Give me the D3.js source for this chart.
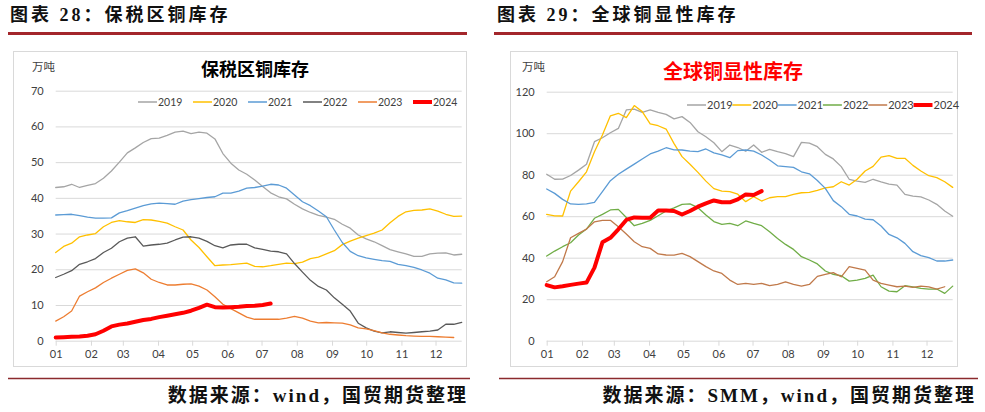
<!DOCTYPE html>
<html><head><meta charset="utf-8">
<script src="https://cdn.jsdelivr.net/npm/d3@7"></script>
<style>body{margin:0;background:#fff}svg{display:block}</style>
</head><body><svg id="c" width="985" height="412"></svg>
<script>
// ---------- data ----------
const monthLabels = ["01","02","03","04","05","06","07","08","09","10","11","12"];
const years = ["2019","2020","2021","2022","2023","2024"];
const leftYTicks = [0,10,20,30,40,50,60,70];
const rightYTicks = [0,20,40,60,80,100,120];

// 保税区铜库存 (万吨), weekly
const bonded2019 = [42.9,43.1,43.8,42.9,43.5,44.0,45.5,47.5,50.0,52.6,54.0,55.5,56.6,56.7,57.5,58.4,58.7,58.0,58.4,58.1,56.5,52.4,49.7,47.8,46.6,45.0,43.2,41.4,40.3,39.7,38.2,36.9,35.9,35.1,34.6,34.0,32.6,31.5,29.6,28.5,27.7,26.6,25.5,24.9,24.3,23.6,23.6,24.3,24.5,24.6,24.0,24.2];
const bonded2020 = [24.7,26.4,27.3,29.1,29.6,30.0,31.9,33.1,33.6,33.3,33.1,33.9,33.8,33.4,32.9,31.9,31.0,28.2,26.1,23.5,21.0,21.2,21.3,21.5,21.7,20.8,20.7,21.0,21.4,21.7,21.6,22.0,23.0,23.4,24.3,25.2,26.9,27.9,28.7,29.4,30.1,31.0,33.0,34.8,36.1,36.5,36.6,36.9,36.3,35.4,34.8,34.9];
const bonded2021 = [35.2,35.3,35.4,35.0,34.6,34.3,34.3,34.4,35.8,36.4,37.1,37.8,38.3,38.5,38.4,38.2,39.1,39.5,39.8,40.1,40.3,41.3,41.3,41.9,42.7,42.9,43.3,43.8,43.6,42.7,40.8,38.9,37.8,36.3,34.7,31.0,27.5,25.0,23.8,23.2,22.8,22.4,22.2,21.4,21.0,20.5,19.8,18.9,17.5,17.0,16.2,16.1];
const bonded2022 = [17.7,18.6,19.6,21.4,22.1,23.0,24.7,25.9,27.7,28.7,29.1,26.5,26.8,27.0,27.3,28.2,29.0,29.1,28.7,27.8,26.6,26.0,26.8,27.0,27.0,26.0,25.6,25.1,24.9,24.3,21.6,19.2,16.9,15.2,14.2,12.0,10.2,8.3,4.9,3.6,2.7,2.2,2.5,2.3,2.1,2.3,2.5,2.7,3.0,4.6,4.6,5.1];
const bonded2023 = [5.5,6.7,8.3,12.5,13.7,14.8,16.3,17.5,18.6,19.7,20.1,19.0,17.2,16.3,15.6,15.6,15.8,15.9,15.3,14.2,12.3,10.2,9.0,7.8,6.6,6.0,6.0,6.0,6.0,6.3,6.8,6.3,5.5,5.0,5.1,5.0,4.9,4.4,3.6,3.3,2.8,2.2,1.8,1.6,1.4,1.3,1.2,1.2,1.1,1.0,0.9];
const bonded2024 = [0.9,1.0,1.1,1.2,1.4,1.8,2.8,4.0,4.5,4.8,5.3,5.8,6.1,6.6,7.0,7.4,7.8,8.4,9.2,10.1,9.4,9.3,9.4,9.5,9.7,9.8,10.0,10.4];

// 全球铜显性库存 (万吨), weekly
const global2019 = [80.2,77.8,77.9,79.6,82.2,85.0,95.9,97.8,100.2,102.3,111.2,111.6,110.0,111.2,110.0,109.1,106.9,108.0,105.2,100.7,98.3,95.4,91.1,94.3,93.1,91.3,94.3,90.8,92.2,91.1,90.2,88.7,95.6,95.2,93.5,89.8,87.6,83.9,77.8,76.9,76.3,77.8,76.6,75.5,75.0,70.5,69.7,69.3,67.8,65.7,62.5,60.0];
const global2020 = [60.9,60.2,60.1,72.1,76.6,81.4,91.1,99.1,108.4,109.6,107.5,113.3,110.4,104.5,103.6,102.0,95.0,88.7,85.0,81.1,76.9,73.3,72.1,71.8,70.6,67.0,69.4,67.3,68.9,69.4,69.4,70.5,71.3,71.5,72.4,73.6,74.2,76.6,75.0,77.8,81.8,84.0,88.5,89.2,87.9,87.9,84.5,81.8,79.5,78.6,76.6,73.9];
const global2021 = [73.1,71.0,68.1,65.9,65.7,65.9,66.7,71.8,77.1,80.2,82.7,85.1,87.6,90.0,91.4,93.0,92.0,91.9,91.4,91.1,92.4,90.5,89.5,88.2,91.6,91.9,91.4,89.5,87.1,84.3,83.9,83.5,81.4,80.4,77.2,73.4,67.5,64.6,60.9,60.1,58.6,58.3,55.3,51.2,49.6,46.9,42.9,41.0,40.0,38.4,38.4,38.9];
const global2022 = [40.8,43.2,45.3,47.2,50.9,53.8,59.0,60.9,63.0,63.3,59.4,55.4,56.5,58.0,60.2,62.5,64.0,65.7,65.9,64.1,60.6,57.4,56.1,56.5,55.4,57.7,56.5,55.4,52.5,49.3,46.4,44.0,40.5,38.9,37.0,33.6,32.0,31.3,28.7,29.2,30.0,31.6,26.0,23.9,23.6,26.5,25.9,25.2,24.9,24.9,22.8,26.3];
const global2023 = [28.4,30.8,38.1,49.6,51.7,53.8,57.3,58.0,58.0,54.9,51.4,47.7,45.3,44.5,41.8,41.3,41.2,42.1,40.5,38.1,35.7,33.6,32.4,29.2,27.1,27.6,27.1,27.6,26.5,27.1,28.3,27.1,26.3,27.1,31.0,32.0,32.8,30.8,35.7,34.9,34.0,29.2,27.6,26.8,26.0,26.3,25.7,26.3,25.9,24.9,26.0];
const global2024 = [26.8,25.7,26.2,26.9,27.5,28.0,35.2,47.4,49.6,53.7,58.2,59.4,59.3,59.3,62.7,62.7,62.5,60.8,62.5,64.6,66.2,67.6,66.7,66.7,68.1,70.5,70.2,72.1];

// ---------- drawing ----------
const svg = d3.select("#c");
const axisFont = "Lato, 'Noto Sans', sans-serif";
const serifFont = "'Liberation Serif', 'Noto Sans CJK SC', serif";

// month start positions in week-index units
const monthStarts = monthLabels.map((m,i)=> d3.timeDay.count(new Date(2019,0,1), new Date(2019,i,1)) / 7);

function panel(o){
  const g = svg.append("g");
  // header
  g.append("text").attr("x", o.hx).attr("y", 21)
    .attr("font-family", serifFont).attr("font-weight", "bold").attr("font-size", 18)
    .attr("letter-spacing", 3).attr("fill", "#111").text(o.header);
  g.append("line").attr("x1", o.hl[0]).attr("x2", o.hl[1]).attr("y1", 33.5).attr("y2", 33.5)
    .attr("stroke", "#A3262B").attr("stroke-width", 3);
  // box
  g.append("rect").attr("x", o.box[0]+0.5).attr("y", 51.5).attr("width", o.box[1]-o.box[0]).attr("height", 315)
    .attr("fill", "none").attr("stroke", "#d9d9d9").attr("stroke-width", 1);
  // footer
  g.append("line").attr("x1", o.fl[0]).attr("x2", o.fl[1]).attr("y1", 378.5).attr("y2", 378.5)
    .attr("stroke", "#8B2A2D").attr("stroke-width", 1.5);
  g.append("text").attr("x", o.fl[1]-2).attr("y", 402).attr("text-anchor", "end")
    .attr("font-family", serifFont).attr("font-weight", "bold").attr("font-size", 19)
    .attr("letter-spacing", 2).attr("fill", "#111").text(o.footer);

  const x = d3.scaleLinear().domain([0,51]).range(o.xr);
  const y = d3.scaleLinear().domain([0,o.ymax]).range([340.7, o.ytop]);

  // y grid + labels
  const ya = g.append("g").attr("transform", `translate(${o.xr[0]},0)`)
    .call(d3.axisLeft(y).tickValues(o.yticks).tickSize(-(o.xr[1]-o.xr[0])).tickPadding(12).tickFormat(d3.format("d")));
  ya.select(".domain").remove();
  ya.selectAll(".tick line").attr("stroke", "#d9d9d9").attr("stroke-width", 1);
  ya.selectAll(".tick text").attr("font-family", axisFont).attr("font-size", 11).attr("fill", "#404040");

  // x axis
  const xa = g.append("g").attr("transform", `translate(0,${y(0)})`)
    .call(d3.axisBottom(x).tickValues(monthStarts).tickSize(5).tickPadding(5)
      .tickFormat((d,i)=> monthLabels[i]));
  xa.select(".domain").remove();
  xa.selectAll(".tick line").attr("stroke", "#d9d9d9");
  xa.selectAll(".tick text").attr("font-family", axisFont).attr("font-size", 11).attr("fill", "#404040");

  // unit
  g.append("text").attr("x", o.unitX).attr("y", 71).attr("font-family", "'Noto Sans CJK SC', sans-serif")
    .attr("font-size", 11.5).attr("fill", "#404040").text("万吨");
  // title
  g.append("text").attr("x", o.titleX).attr("y", o.titleY).attr("text-anchor", "middle")
    .attr("font-family", "'Noto Sans CJK SC', sans-serif").attr("font-weight", "bold")
    .attr("font-size", o.titleSize).attr("fill", o.titleColor).text(o.title);

  // lines
  const line = d3.line().x((d,i)=>x(i)).y(d=>y(d));
  o.series.forEach((s,k)=>{
    g.append("path").datum(s).attr("fill","none")
      .attr("stroke", o.colors[k]).attr("stroke-width", k===5 ? 4 : 1.3)
      .attr("stroke-linejoin","round").attr("stroke-linecap","round").attr("d", line);
  });

  // legend
  years.forEach((yr,k)=>{
    const lx = o.legX + k*o.legStep;
    g.append("line").attr("x1", lx).attr("x2", lx+19).attr("y1", o.legY).attr("y2", o.legY)
      .attr("stroke", o.colors[k]).attr("stroke-width", k===5 ? 4 : 1.5);
    g.append("text").attr("x", lx+20).attr("y", o.legY+4).attr("font-family", axisFont)
      .attr("font-size", o.legSize).attr("fill", "#404040").text(yr);
  });
}

panel({
  header: "图表 28：保税区铜库存", hx: 10, hl: [8, 467],
  footer: "数据来源：wind，国贸期货整理", fl: [8, 470],
  box: [13, 466], xr: [55.7, 461.7], ymax: 70, ytop: 90.7, yticks: leftYTicks,
  unitX: 32, title: "保税区铜库存", titleX: 255, titleY: 76, titleSize: 18, titleColor: "#000",
  series: [bonded2019, bonded2020, bonded2021, bonded2022, bonded2023, bonded2024],
  colors: ["#A5A5A5", "#FFC000", "#5B9BD5", "#595959", "#ED7D31", "#FF0000"],
  legX: 138, legStep: 55, legY: 102, legSize: 10.5
});

panel({
  header: "图表 29：全球铜显性库存", hx: 497, hl: [494, 972],
  footer: "数据来源：SMM，wind，国贸期货整理", fl: [499, 978],
  box: [510, 957], xr: [546.7, 952.7], ymax: 120, ytop: 91.7, yticks: rightYTicks,
  unitX: 522, title: "全球铜显性库存", titleX: 733, titleY: 79, titleSize: 20, titleColor: "#FF0000",
  series: [global2019, global2020, global2021, global2022, global2023, global2024],
  colors: ["#A5A5A5", "#FFC000", "#5B9BD5", "#70AD47", "#C0794A", "#FF0000"],
  legX: 687, legStep: 45.3, legY: 105, legSize: 11
});
</script>
</body></html>
